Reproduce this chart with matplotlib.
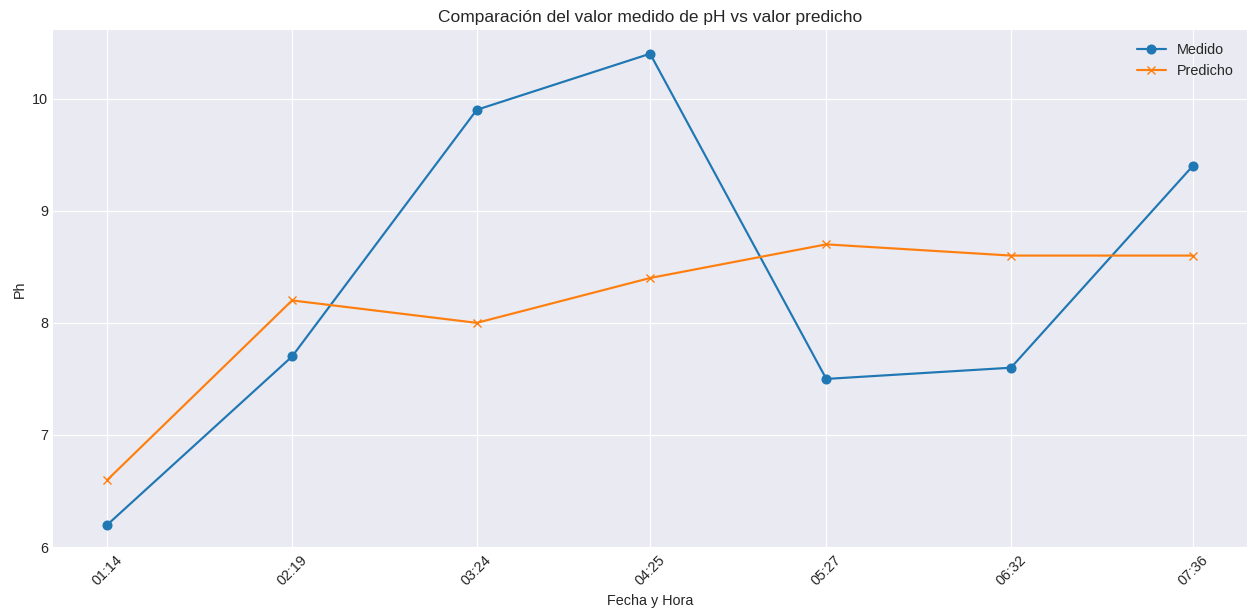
import matplotlib
matplotlib.use("Agg")
import matplotlib.pyplot as plt
import matplotlib.dates as mdates
import pandas as pd

times = ["01:14", "02:19", "03:24", "04:25", "05:27", "06:32", "07:36"]
medido = [6.2, 7.7, 9.9, 10.4, 7.5, 7.6, 9.4]
predicho = [6.6, 8.2, 8.0, 8.4, 8.7, 8.6, 8.6]

plt.style.use("seaborn-v0_8-darkgrid")
plt.rcParams['font.family'] = ['Liberation Sans', 'DejaVu Sans']
s = 1.04
plt.rcParams['font.size'] = 10 * s
plt.rcParams['lines.linewidth'] = 1.5 * s
plt.rcParams['lines.markersize'] = 6 * s

x = pd.to_datetime(["2024-01-01 " + t for t in times])

fig, ax = plt.subplots(figsize=(12.49, 6.16), dpi=100)
ax.plot(x, medido, marker='o', label='Medido', color='#1f77b4')
ax.plot(x, predicho, marker='x', label='Predicho', color='#ff7f0e')
ax.set_xticks(x)
ax.xaxis.set_major_formatter(mdates.DateFormatter('%H:%M'))
plt.setp(ax.get_xticklabels(), rotation=45)
ax.set_title('Comparación del valor medido de pH vs valor predicho')
ax.set_xlabel('Fecha y Hora')
ax.set_ylabel('Ph')
ax.legend()
fig.subplots_adjust(left=0.0425, right=0.9985, top=0.951, bottom=0.11)
fig.savefig('out.png', dpi=100)
